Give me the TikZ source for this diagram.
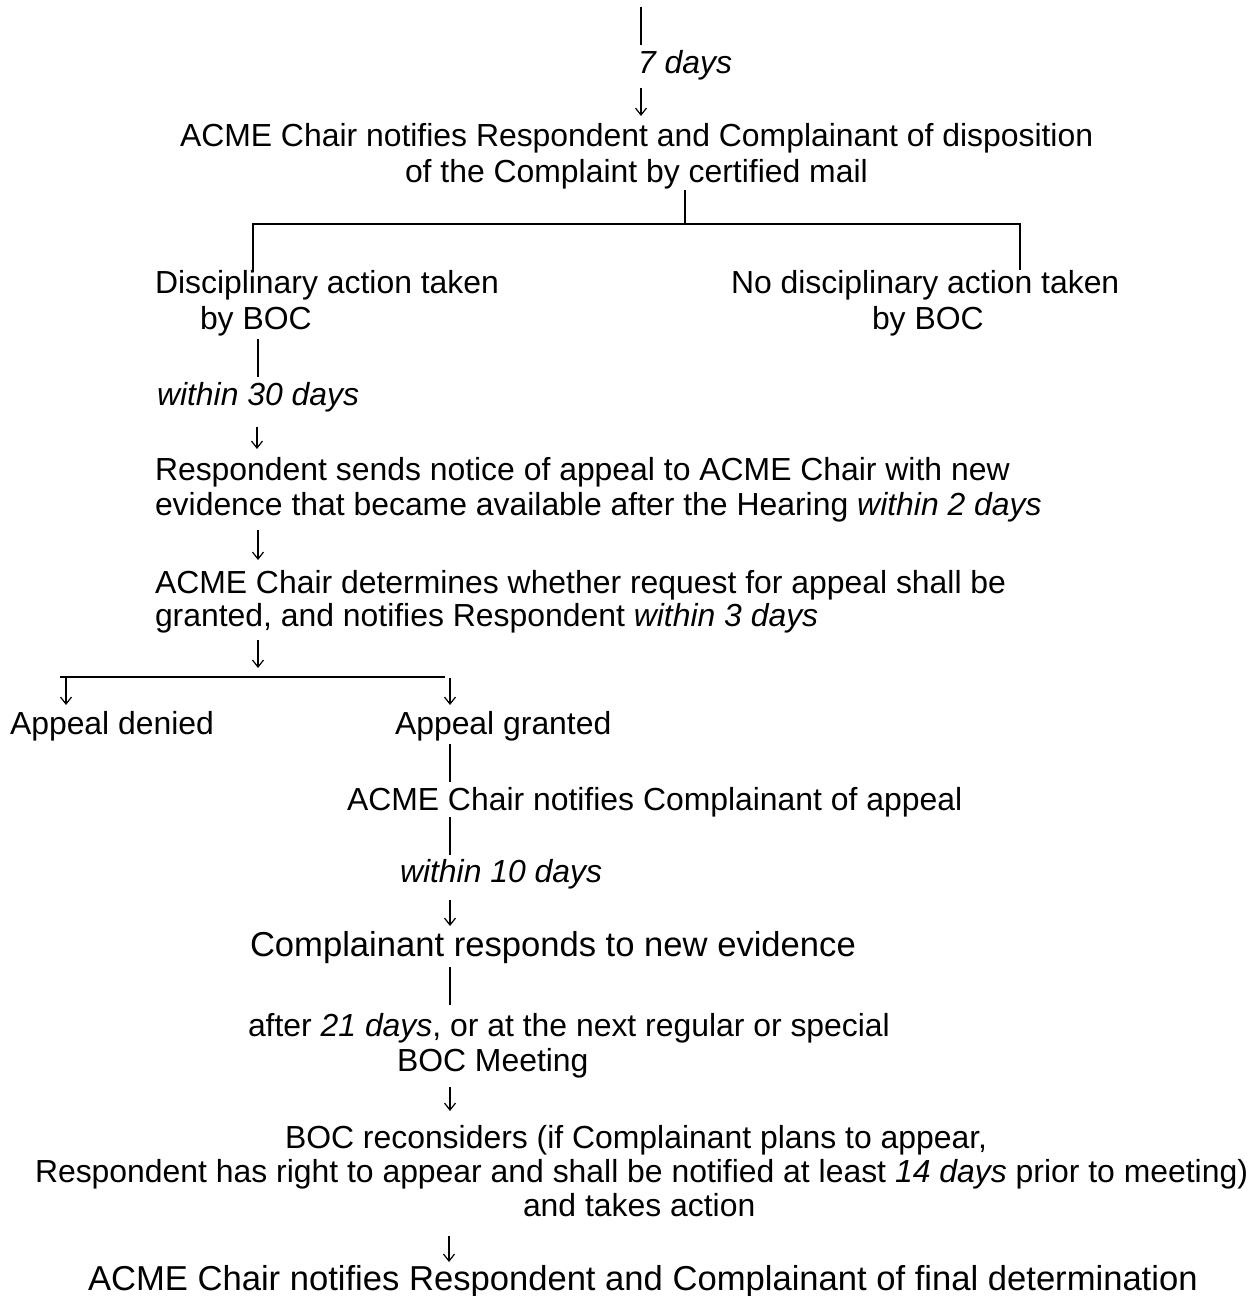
\documentclass[tikz,border=0pt]{standalone}
\usepackage{fontspec}
\setmainfont{Liberation Sans}
\usetikzlibrary{arrows.meta}
\begin{document}
\begin{tikzpicture}[x=1pt,y=-1pt,
  every node/.style={inner sep=0pt,outer sep=0pt,font=\fontsize{31.9}{36.4}\selectfont},
  txt/.style={anchor=base west},
  big/.style={anchor=base west,font=\fontsize{34.6}{40}\selectfont},
  bar/.style={line width=2.4pt},
  hline/.style={line width=1.6pt},
  hthick/.style={line width=2.2pt},
  darrow/.style={line width=1.2pt,-{Straight Barb[length=7pt,width=11pt,line width=1.2pt]}}]
\useasboundingbox (0,0) rectangle (1253,1296);
% texts
\node[txt] (d7) at (638,73) {\itshape 7 days};
\node[txt] (a1) at (180,146) {ACME Chair notifies Respondent and Complainant of disposition};
\node[txt] (a2) at (405,182) {of the Complaint by certified mail};
\node[txt] (dis1) at (155,293) {Disciplinary action taken};
\node[txt] (dis2) at (200,329) {by BOC};
\node[txt] (nd1) at (731,293) {No disciplinary action taken};
\node[txt] (nd2) at (872,329) {by BOC};
\node[txt] (w30) at (157,405) {\itshape within 30 days};
\node[txt] (r1) at (155,480) {Respondent sends notice of appeal to ACME Chair with new};
\node[txt] (r2) at (155,515) {evidence that became available after the Hearing \textit{within 2 days}};
\node[txt] (c1) at (155,593) {ACME Chair determines whether request for appeal shall be};
\node[txt] (c2) at (155,626) {granted, and notifies Respondent \textit{within 3 days}};
\node[txt] (den) at (10,734) {Appeal denied};
\node[txt] (gra) at (395,734) {Appeal granted};
\node[txt] (n1) at (347,810) {ACME Chair notifies Complainant of appeal};
\node[txt] (w10) at (400,882) {\itshape within 10 days};
\node[big] (cr) at (250,956) {Complainant responds to new evidence};
\node[txt] (af1) at (248,1036) {after \textit{21 days}, or at the next regular or special};
\node[txt] (af2) at (397,1071) {BOC Meeting};
\node[txt] (b1) at (285,1148) {BOC reconsiders (if Complainant plans to appear,};
\node[txt] (b2) at (35,1182) {Respondent has right to appear and shall be notified at least \textit{14 days} prior to meeting)};
\node[txt] (b3) at (523,1216) {and takes action};
\node[big] (fin) at (88,1290) {ACME Chair notifies Respondent and Complainant of final determination};
% connector end points
\coordinate (p0) at (641,7);   \coordinate (p1) at (641,45);
\coordinate (p2) at (641,88);  \coordinate (p3) at (641,116);
\coordinate (q0) at (685,190); \coordinate (q1) at (685,224);
\coordinate (qL0) at (253,224); \coordinate (qL1) at (253,272);
\coordinate (qR0) at (1020,224); \coordinate (qR1) at (1020,270);
\coordinate (s0) at (258,339); \coordinate (s1) at (258,377);
\coordinate (s2) at (257,427); \coordinate (s3) at (257,449);
\coordinate (t0) at (258,530); \coordinate (t1) at (258,560);
\coordinate (u0) at (258,640); \coordinate (u1) at (258,668);
\coordinate (h0) at (60,677);  \coordinate (h1) at (445,677);
\coordinate (v0) at (66,678);  \coordinate (v1) at (66,705);
\coordinate (w0) at (450,678); \coordinate (w1) at (450,705);
\coordinate (g0) at (450,744); \coordinate (g1) at (450,782);
\coordinate (g2) at (450,817); \coordinate (g3) at (450,855);
\coordinate (g4) at (450,900); \coordinate (g5) at (450,926);
\coordinate (k0) at (450,967); \coordinate (k1) at (450,1005);
\coordinate (k2) at (450,1087); \coordinate (k3) at (450,1111);
\coordinate (m0) at (449,1236); \coordinate (m1) at (449,1262);
% connectors
\draw[bar] (p0) -- (p1);
\draw[darrow] (p2) -- (p3);
\draw[bar] (q0) -- (q1);
\draw[hline] (qL1) -- (qL0) -- (qR0) -- (qR1);
\draw[bar] (s0) -- (s1);
\draw[darrow] (s2) -- (s3);
\draw[darrow] (t0) -- (t1);
\draw[darrow] (u0) -- (u1);
\draw[hthick] (h0) -- (h1);
\draw[darrow] (v0) -- (v1);
\draw[darrow] (w0) -- (w1);
\draw[bar] (g0) -- (g1);
\draw[bar] (g2) -- (g3);
\draw[darrow] (g4) -- (g5);
\draw[bar] (k0) -- (k1);
\draw[darrow] (k2) -- (k3);
\draw[darrow] (m0) -- (m1);
\end{tikzpicture}
\end{document}
